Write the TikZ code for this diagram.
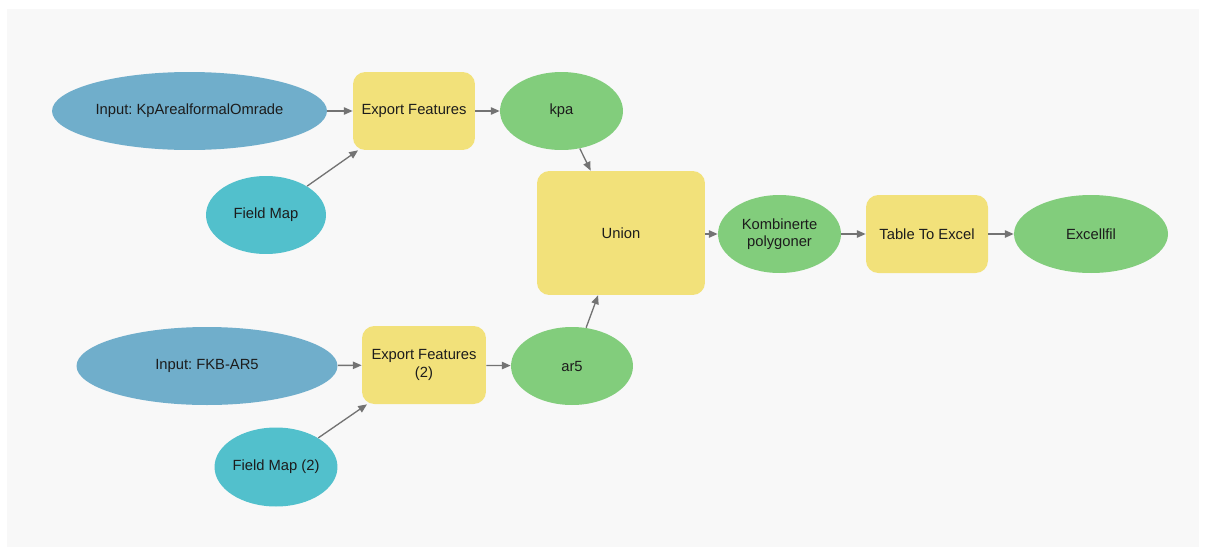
\documentclass[tikz,border=0pt]{standalone}
\usepackage{fontspec}
\setmainfont{Liberation Sans}
\usetikzlibrary{shapes.geometric,arrows.meta}

\definecolor{bggray}{HTML}{F8F8F8}
\definecolor{inblue}{HTML}{70AECB}
\definecolor{mapcyan}{HTML}{52C0CC}
\definecolor{outgreen}{HTML}{82CD7C}
\definecolor{toolyellow}{HTML}{F2E17A}
\definecolor{flowgray}{HTML}{737373}
\definecolor{txt}{HTML}{1C1C1C}

\tikzset{
  every node/.style={font=\fontsize{8.4}{9.8}\selectfont\frenchspacing, text=txt, align=center, inner sep=0pt},
  inp/.style={ellipse, fill=inblue, minimum height=1.56cm},
  fmap/.style={ellipse, fill=mapcyan, minimum height=1.56cm},
  outp/.style={ellipse, fill=outgreen, minimum height=1.56cm},
  tool/.style={rectangle, rounded corners=7pt, fill=toolyellow, minimum height=1.56cm},
  flow/.style={draw=flowgray, line width=0.75pt, -{Triangle[length=5pt,width=4.2pt]}, fill=flowgray}
}

\begin{document}
\begin{tikzpicture}[x=0.02cm,y=-0.02cm]
    %canvas
    \fill[white] (0,0) rectangle (1206,555);
    \fill[bggray] (7,9) rectangle (1199,547);
    \useasboundingbox (0,0) rectangle (1206,555);
    %first branch
    \node[inp, minimum width=5.5cm] (in1) at (189.5,111) {Input: KpArealformalOmrade};
    \node[tool, minimum width=2.44cm] (ef1) at (414,111) {Export Features};
    \node[outp, minimum width=2.46cm] (kpa) at (561.5,111) {kpa};
    \node[fmap, minimum width=2.4cm] (fm1) at (266,215) {Field Map};
    %second branch
    \node[inp, minimum width=5.22cm] (in2) at (207,366) {Input: FKB-AR5};
    \node[tool, minimum width=2.48cm] (ef2) at (424,365) {Export Features\\(2)};
    \node[outp, minimum width=2.44cm] (ar5) at (572,366) {ar5};
    \node[fmap, minimum width=2.44cm, minimum height=1.58cm] (fm2) at (276,467) {Field Map (2)};
    %union and export
    \node[tool, minimum width=3.36cm, minimum height=2.48cm] (union) at (621,233) {Union};
    \node[outp, minimum width=2.46cm] (komb) at (779.5,234) {Kombinerte\\polygoner};
    \node[tool, minimum width=2.44cm] (t2e) at (927,234) {Table To Excel};
    \node[outp, minimum width=3.08cm] (xls) at (1091,234) {Excellfil};
    %arrows
    \draw[flow] (in1) -- (ef1);
    \draw[flow] (fm1) -- (ef1);
    \draw[flow] (ef1) -- (kpa);
    \draw[flow] (in2) -- (ef2);
    \draw[flow] (fm2) -- (ef2);
    \draw[flow] (ef2) -- (ar5);
    \draw[flow] (kpa) -- (union);
    \draw[flow] (ar5) -- (union);
    \draw[flow] (union.east |- komb) -- (komb);
    \draw[flow] (komb) -- (t2e);
    \draw[flow] (t2e) -- (xls);
\end{tikzpicture}
\end{document}
